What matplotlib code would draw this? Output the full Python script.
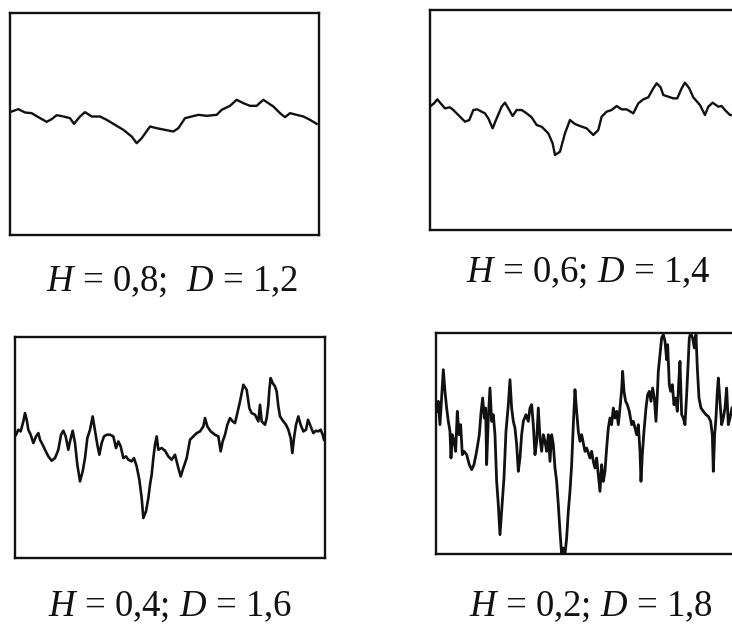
import matplotlib
matplotlib.use("Agg")
import matplotlib.pyplot as plt

plt.rcParams['font.family'] = ['Liberation Serif', 'DejaVu Serif']
plt.rcParams['mathtext.fontset'] = 'custom'
plt.rcParams['mathtext.it'] = 'Liberation Serif:italic'
plt.rcParams['mathtext.rm'] = 'Liberation Serif'

# traces (time, value)
t1 = [5, 25, 45, 65, 85, 110, 125, 140, 160, 180, 192, 210, 225, 245, 270, 290, 315, 340,
      365, 380, 395, 420, 440, 465, 490, 505, 525, 545, 565, 590, 620, 635, 660, 680, 700,
      720, 740, 760, 775, 790, 810, 825, 840, 860, 880, 900, 920]
v1 = [370, 377, 367, 365, 353, 339, 347, 359, 355, 350, 333, 355, 368, 355, 355, 345, 330, 315,
      295, 275, 290, 325, 320, 315, 310, 320, 350, 355, 360, 357, 360, 375, 387, 405, 395,
      387, 387, 405, 395, 385, 365, 353, 365, 360, 355, 345, 333]

t2 = [2, 12, 22, 32, 45, 60, 70, 85, 105, 118, 130, 142, 155, 165, 175, 188, 200, 215, 225,
      235, 248, 260, 275, 290, 305, 320, 335, 355, 368, 375, 390, 405, 420, 435, 450, 470,
      490, 505, 515, 530, 545, 560, 575, 590, 610, 625, 640, 655, 670, 680, 692, 700, 715,
      730, 742, 755, 765, 778, 790, 810, 825, 835, 848, 865, 875, 885, 900, 906]
v2 = [372, 380, 392, 380, 365, 368, 360, 345, 325, 330, 360, 362, 355, 350, 335, 305, 335,
      370, 382, 365, 342, 360, 360, 350, 338, 315, 310, 290, 260, 225, 235, 290, 330, 318,
      312, 305, 285, 300, 340, 355, 360, 372, 362, 362, 350, 380, 392, 398, 425, 440, 428,
      405, 400, 395, 395, 425, 442, 425, 398, 375, 345, 370, 382, 370, 372, 360, 345, 345]

t3 = [3, 10, 17, 25, 30, 35, 40, 47, 55, 63, 70, 75, 83, 90, 100, 110, 120, 130, 138, 145,
      152, 160, 165, 173, 180, 187, 195, 203, 210, 217, 225, 233, 240, 247, 253, 260, 267,
      275, 285, 295, 303, 310, 317, 325, 333, 340, 350, 357, 365, 373, 380, 385, 393, 400,
      405, 410, 415, 420, 425, 430, 440, 450, 460, 470, 480, 490, 497, 505, 515, 525, 535,
      545, 555, 565, 570, 577, 587, 600, 610, 617, 623, 630, 637, 645, 653, 660, 667, 675,
      685, 695, 703, 710, 720, 730, 735, 740, 750, 755, 760, 763, 767, 773, 780, 785, 790,
      795, 805, 813, 820, 827, 832, 837, 843, 850, 857, 865, 873, 879, 887, 895, 903, 910,
      917, 923, 927]
v3 = [370, 385, 380, 410, 435, 415, 385, 370, 345, 365, 375, 355, 340, 325, 305, 292, 300,
      325, 370, 382, 365, 325, 350, 382, 345, 280, 230, 260, 300, 360, 385, 425, 382, 340,
      310, 345, 365, 370, 370, 365, 330, 350, 335, 300, 305, 295, 290, 300, 275, 235, 180,
      120, 140, 180, 220, 250, 300, 340, 365, 325, 330, 322, 305, 295, 310, 270, 245, 270,
      300, 355, 365, 375, 380, 395, 420, 395, 380, 370, 365, 320, 350, 370, 400, 420, 410,
      405, 435, 470, 520, 505, 450, 435, 430, 410, 460, 410, 400, 420, 460, 505, 540, 525,
      515, 500, 455, 425, 410, 400, 385, 360, 315, 360, 400, 425, 400, 380, 385, 415, 395,
      375, 382, 380, 385, 370, 355]

t4 = [2, 7, 12, 17, 22, 27, 32, 37, 42, 45, 49, 54, 59, 64, 69, 74, 79, 84, 92, 100, 107,
      114, 122, 130, 135, 140, 145, 149, 152, 157, 162, 167, 172, 177, 182, 187, 192, 197,
      204, 210, 217, 222, 227, 232, 237, 242, 247, 252, 257, 262, 270, 277, 282, 287, 292,
      297, 302, 307, 312, 317, 322, 327, 332, 337, 342, 347, 352, 357, 362, 367, 372, 377,
      382, 387, 392, 397, 402, 407, 412, 417, 422, 427, 432, 437, 442, 447, 452, 457, 462,
      467, 472, 477, 482, 487, 492, 497, 502, 507, 512, 517, 522, 527, 532, 537, 542, 547,
      552, 557, 560, 564, 569, 574, 580, 587, 592, 597, 602, 607, 612, 615, 619, 624, 630,
      635, 640, 645, 650, 655, 660, 664, 667, 672, 677, 682, 687, 692, 695, 700, 704, 709,
      714, 719, 724, 729, 732, 737, 742, 747, 752, 757, 760, 764, 770, 775, 780, 784, 789,
      795, 802, 810, 817, 824, 829, 832, 836, 840, 844, 847, 852, 857, 862, 867, 872, 877,
      882, 888]
v4 = [428, 458, 388, 468, 553, 488, 438, 398, 368, 288, 358, 338, 308, 428, 358, 388, 298,
      308, 298, 268, 253, 268, 308, 358, 423, 468, 408, 438, 268, 408, 498, 398, 418, 358,
      218, 148, 58, 128, 228, 368, 448, 523, 438, 398, 378, 328, 248, 288, 358, 398, 418,
      398, 438, 448, 388, 298, 338, 438, 348, 308, 358, 338, 308, 358, 278, 358, 328, 258,
      218, 148, 68, -2, 18, -2, 48, 128, 188, 268, 388, 493, 428, 368, 338, 358, 333, 308,
      318, 303, 288, 308, 278, 258, 288, 238, 188, 268, 218, 248, 318, 378, 408, 388, 438,
      408, 428, 388, 438, 493, 548, 488, 458, 448, 428, 388, 398, 378, 358, 388, 308, 218,
      298, 368, 438, 478, 488, 458, 498, 468, 398, 478, 548, 598, 648, 658, 638, 583, 628,
      508, 488, 508, 448, 468, 428, 528, 578, 418, 408, 388, 478, 588, 648, 663, 648, 618,
      658, 558, 468, 438, 428, 418, 413, 398, 358, 248, 358, 408, 488, 528, 458, 388, 408,
      438, 498, 388, 408, 438]

labels = ["$H$ = 0,8;  $D$ = 1,2", "$H$ = 0,6; $D$ = 1,4",
          "$H$ = 0,4; $D$ = 1,6", "$H$ = 0,2; $D$ = 1,8"]

traces = [(t1, v1), (t2, v2), (t3, v3), (t4, v4)]
boxes = [[0.0137, 0.6264, 0.4221, 0.3529],
         [0.5874, 0.6343, 0.4221, 0.3498],
         [0.0205, 0.1129, 0.4235, 0.3506],
         [0.5956, 0.1192, 0.4235, 0.3514]]
xmax = [927, 927, 930, 930]
ymax = [665, 660, 662, 663]
label_pos = [(0.235, 0.552), (0.803, 0.566), (0.232, 0.035), (0.807, 0.035)]
widths = [1.7, 1.7, 1.9, 2.0]

fig = plt.figure(figsize=(7.32, 6.29), dpi=100)

for i in range(4):
    ax = fig.add_axes(boxes[i])
    t, v = traces[i]
    ax.plot(t, v, color='#111111', lw=widths[i], solid_joinstyle='round')
    ax.set_xlim(0, xmax[i])
    ax.set_ylim(0, ymax[i])
    ax.set_xticks([])
    ax.set_yticks([])
    for s in ax.spines.values():
        s.set_linewidth(1.7)
        s.set_color('#111111')
    fig.text(label_pos[i][0], label_pos[i][1], labels[i], fontsize=26.5,
             ha='center', va='center', color='#111111')

fig.savefig("out.png", dpi=100)
